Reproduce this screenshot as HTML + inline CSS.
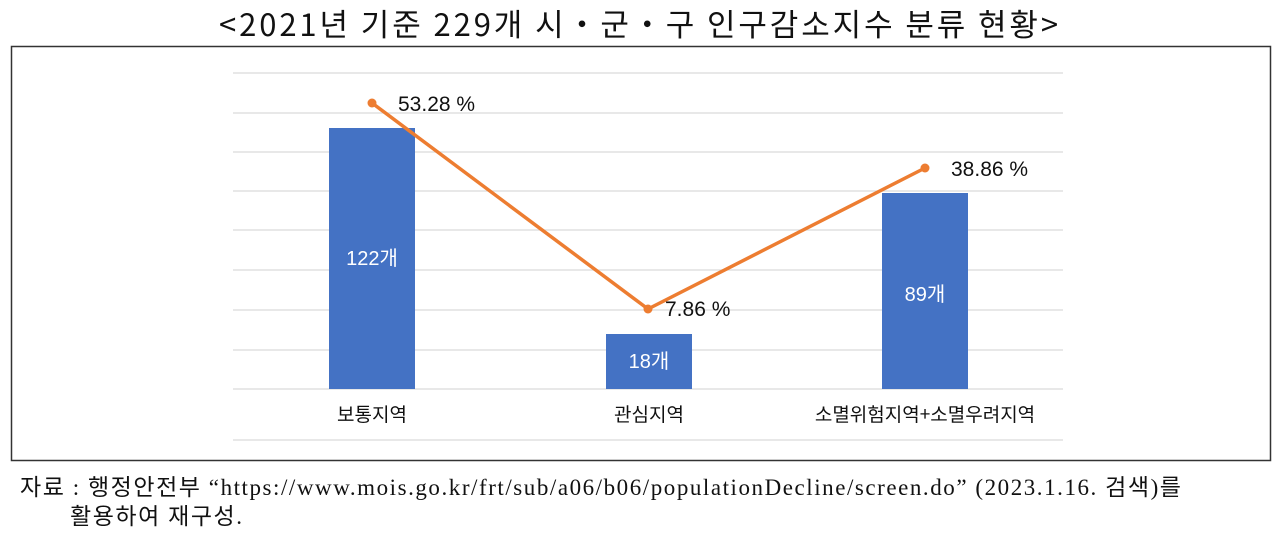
<!DOCTYPE html>
<html><head><meta charset="utf-8"><style>
body{margin:0;width:1280px;height:537px;background:#fff;overflow:hidden;position:relative;font-family:"Liberation Sans","Noto Sans CJK KR",sans-serif}
.t{position:absolute;white-space:nowrap}
</style></head><body>
<div class="t" style="left:0;width:1280px;text-align:center;top:0px;font-size:31px;color:#111;font-family:'Noto Sans CJK KR',sans-serif;letter-spacing:2.9px">&lt;2021년 기준 229개 시・군・구 인구감소지수 분류 현황&gt;</div>
<svg width="1280" height="537" style="position:absolute;left:0;top:0">
<rect x="11.5" y="46.5" width="1259" height="414" fill="none" stroke="#333" stroke-width="1.5"/>
<g stroke="#d9d9d9" stroke-width="1.2">
<line x1="233" x2="1063" y1="73" y2="73"/><line x1="233" x2="1063" y1="113" y2="113"/>
<line x1="233" x2="1063" y1="152" y2="152"/><line x1="233" x2="1063" y1="191" y2="191"/>
<line x1="233" x2="1063" y1="230" y2="230"/><line x1="233" x2="1063" y1="270" y2="270"/>
<line x1="233" x2="1063" y1="310" y2="310"/><line x1="233" x2="1063" y1="350" y2="350"/>
<line x1="233" x2="1063" y1="389" y2="389"/><line x1="233" x2="1063" y1="440" y2="440"/>
</g>
<g fill="#4472c4">
<rect x="329" y="128" width="86" height="261"/>
<rect x="606" y="334" width="86" height="55"/>
<rect x="882" y="193" width="86" height="196"/>
</g>
<polyline points="372,103 648,309 925,168" fill="none" stroke="#ed7d31" stroke-width="3.5"/>
<g fill="#ed7d31"><circle cx="372" cy="103" r="4.5"/><circle cx="648" cy="309" r="4.5"/><circle cx="925" cy="168" r="4.5"/></g>
<g font-family="Liberation Sans,Noto Sans CJK KR,sans-serif" font-size="21" fill="#111">
<text x="398" y="111">53.28 %</text>
<text x="665" y="316">7.86 %</text>
<text x="951" y="176">38.86 %</text>
</g>
<g font-family="Liberation Sans,Noto Sans CJK KR,sans-serif" font-size="20" fill="#fff" text-anchor="middle">
<text x="372" y="265">122개</text>
<text x="649" y="368">18개</text>
<text x="925" y="301">89개</text>
</g>
<g font-family="Noto Sans CJK KR,sans-serif" font-size="19" fill="#111" text-anchor="middle">
<text x="372" y="421">보통지역</text>
<text x="649" y="421">관심지역</text>
<text x="925" y="421">소멸위험지역+소멸우려지역</text>
</g>
</svg>
<div class="t" style="left:20px;top:468px;font-size:23px;color:#111;letter-spacing:1.55px;font-family:'Liberation Serif','Noto Sans CJK KR',serif">자료 : 행정안전부 “https://www.mois.go.kr/frt/sub/a06/b06/populationDecline/screen.do” (2023.1.16. 검색)를</div>
<div class="t" style="left:70px;top:497px;font-size:23px;color:#111;letter-spacing:1.55px;font-family:'Liberation Serif','Noto Sans CJK KR',serif">활용하여 재구성.</div>
</body></html>
